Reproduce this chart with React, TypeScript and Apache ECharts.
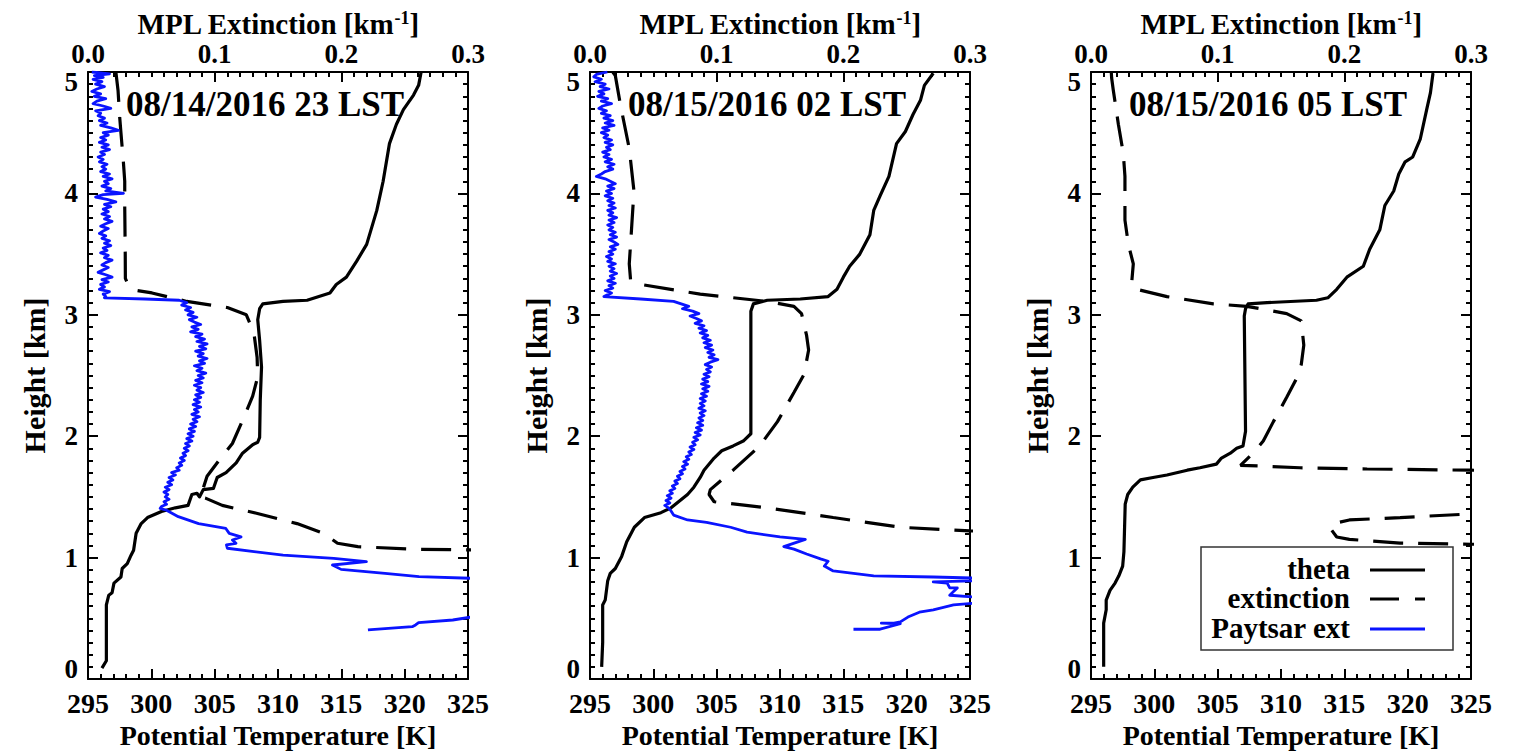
import React, { useEffect, useRef } from "react";
import * as echarts from "echarts";

// ---------------- data ----------------
const panelDates = ["08/14/2016 23 LST", "08/15/2016 02 LST", "08/15/2016 05 LST"];
const thetaTicks = [295, 325, 5];
const extTicks = [0, 0.3, 0.1];
const heightTicks = [0, 5, 1];
const legendNames = ["theta", "extinction", "Paytsar ext"];

// [potential temperature K, height km]
const theta1 = [[296.1,0.09],[296.45,0.15],[296.45,0.61],[296.64,0.69],[296.9,0.71],[297.05,0.79],[297.6,0.84],[297.7,0.91],[298.1,0.95],[298.4,1.02],[298.6,1.06],[298.8,1.2],[299.2,1.28],[299.7,1.33],[300.8,1.38],[301.9,1.41],[302.9,1.43],[303.2,1.52],[303.6,1.53],[303.8,1.5],[304.1,1.56],[304.9,1.57],[305.2,1.66],[305.9,1.7],[306.7,1.78],[307.2,1.86],[308.0,1.93],[308.4,1.95],[308.55,1.99],[308.6,2.3],[308.7,2.57],[308.55,2.79],[308.4,2.96],[308.55,3.05],[308.8,3.09],[310.4,3.11],[312.3,3.12],[314.1,3.18],[314.6,3.25],[315.4,3.31],[316.2,3.44],[317.0,3.58],[317.8,3.86],[318.3,4.1],[318.8,4.41],[319.35,4.57],[319.9,4.69],[320.7,4.81],[321.1,4.89],[321.3,5.0]];
const theta2 = [[295.92,0.1],[296.0,0.3],[296.0,0.61],[296.2,0.65],[296.4,0.81],[296.6,0.87],[297.0,0.91],[297.5,1.01],[297.9,1.13],[298.5,1.25],[299.3,1.33],[300.6,1.37],[301.4,1.41],[302.7,1.52],[303.2,1.58],[303.7,1.66],[304.0,1.72],[304.8,1.82],[305.4,1.88],[306.3,1.92],[307.1,1.96],[307.7,2.02],[307.7,3.03],[307.9,3.09],[309.0,3.12],[311.6,3.13],[313.8,3.15],[314.5,3.21],[315.0,3.31],[315.5,3.4],[316.3,3.5],[317.1,3.66],[317.4,3.86],[317.9,3.98],[318.6,4.14],[319.2,4.41],[319.9,4.51],[320.5,4.65],[321.1,4.77],[321.4,4.89],[322.1,4.99]];
const theta3 = [[296.0,0.1],[296.0,0.46],[296.2,0.57],[296.2,0.65],[296.5,0.73],[296.9,0.79],[297.2,0.85],[297.5,0.93],[297.6,1.05],[297.7,1.44],[297.9,1.52],[298.3,1.58],[298.9,1.64],[299.9,1.66],[301.0,1.68],[302.6,1.72],[303.6,1.74],[304.9,1.77],[305.3,1.82],[306.0,1.86],[306.5,1.9],[307.0,1.92],[307.2,2.04],[307.1,2.99],[307.2,3.05],[307.4,3.09],[308.9,3.1],[312.8,3.12],[313.7,3.14],[314.4,3.21],[315.2,3.31],[316.5,3.4],[317.0,3.54],[317.8,3.7],[318.2,3.9],[318.9,4.02],[319.3,4.16],[319.8,4.26],[320.4,4.3],[321.0,4.45],[321.5,4.69],[321.8,4.83],[322.0,4.99]];

// [MPL extinction km-1, height km]
const ext1 = [[0.022,5.0],[0.0237,4.85],[0.025,4.63],[0.026,4.5],[0.028,4.25],[0.029,4.1],[0.029,3.89],[0.0294,3.5],[0.0295,3.3],[0.032,3.24],[0.039,3.2],[0.0505,3.18],[0.078,3.11],[0.11,3.06],[0.125,3.0],[0.131,2.85],[0.1335,2.65],[0.134,2.49],[0.13,2.33],[0.122,2.13],[0.114,1.94],[0.1034,1.8],[0.094,1.67],[0.09,1.54],[0.0887,1.5],[0.0927,1.49],[0.106,1.43],[0.133,1.365],[0.165,1.28],[0.186,1.2],[0.197,1.118],[0.213,1.09],[0.261,1.068],[0.304,1.063],[0.4,1.055]];
const ext2 = [[0.018,5.0],[0.02,4.97],[0.024,4.73],[0.031,4.37],[0.0347,4.02],[0.033,3.74],[0.031,3.42],[0.032,3.29],[0.04,3.25],[0.087,3.17],[0.14,3.11],[0.161,3.07],[0.167,3.01],[0.171,2.83],[0.1726,2.71],[0.169,2.51],[0.161,2.36],[0.148,2.12],[0.134,1.92],[0.113,1.72],[0.095,1.56],[0.094,1.52],[0.098,1.46],[0.14,1.41],[0.192,1.33],[0.245,1.25],[0.3,1.22],[0.4,1.18]];
const ext3 = [[0.016,5.0],[0.0163,4.95],[0.0176,4.85],[0.0216,4.57],[0.0255,4.33],[0.0268,4.14],[0.0268,3.78],[0.0295,3.58],[0.0334,3.42],[0.032,3.25],[0.036,3.21],[0.06,3.15],[0.0966,3.09],[0.123,3.07],[0.1545,3.01],[0.166,2.95],[0.168,2.75],[0.166,2.59],[0.162,2.47],[0.1545,2.32],[0.144,2.12],[0.136,1.96],[0.128,1.86],[0.118,1.76],[0.133,1.755],[0.165,1.74],[0.218,1.73],[0.3,1.72],[0.45,1.7],[0.45,1.37],[0.3,1.36],[0.244,1.33],[0.204,1.31],[0.191,1.28],[0.189,1.24],[0.194,1.17],[0.204,1.15],[0.244,1.12],[0.3,1.11],[0.45,1.1],[0.5,0.1]];

// [Paytsar extinction km-1, height km]
const pay1 = [[0.003,5.0],[0.017,4.985],[0.005,4.97],[0.012,4.955],[0.004,4.94],[0.011,4.92],[0.006,4.9],[0.013,4.88],[0.007,4.86],[0.003,4.84],[0.01,4.82],[0.005,4.8],[0.014,4.78],[0.007,4.76],[0.004,4.74],[0.012,4.72],[0.018,4.7],[0.006,4.68],[0.01,4.66],[0.008,4.64],[0.013,4.62],[0.009,4.6],[0.015,4.58],[0.01,4.56],[0.018,4.54],[0.024,4.52],[0.012,4.5],[0.016,4.48],[0.01,4.46],[0.014,4.44],[0.009,4.42],[0.016,4.4],[0.011,4.38],[0.017,4.36],[0.01,4.34],[0.013,4.32],[0.008,4.3],[0.012,4.28],[0.009,4.26],[0.015,4.24],[0.011,4.22],[0.014,4.2],[0.01,4.18],[0.017,4.16],[0.012,4.14],[0.019,4.12],[0.013,4.1],[0.016,4.08],[0.011,4.06],[0.018,4.04],[0.014,4.02],[0.028,4.0],[0.012,3.99],[0.006,3.97],[0.015,3.95],[0.022,3.93],[0.013,3.91],[0.018,3.89],[0.012,3.87],[0.016,3.85],[0.011,3.83],[0.017,3.81],[0.013,3.79],[0.019,3.77],[0.014,3.75],[0.01,3.73],[0.016,3.71],[0.012,3.69],[0.009,3.67],[0.014,3.65],[0.011,3.63],[0.017,3.61],[0.013,3.59],[0.018,3.57],[0.012,3.55],[0.015,3.53],[0.01,3.51],[0.016,3.49],[0.013,3.47],[0.019,3.45],[0.014,3.43],[0.011,3.41],[0.016,3.39],[0.012,3.37],[0.008,3.35],[0.014,3.33],[0.019,3.31],[0.011,3.29],[0.016,3.27],[0.01,3.25],[0.013,3.23],[0.009,3.21],[0.017,3.19],[0.012,3.17],[0.014,3.15],[0.013,3.14],[0.045,3.13],[0.072,3.12],[0.078,3.1],[0.074,3.08],[0.081,3.06],[0.077,3.04],[0.083,3.02],[0.079,3.0],[0.086,2.98],[0.08,2.96],[0.084,2.94],[0.089,2.92],[0.082,2.9],[0.087,2.88],[0.081,2.86],[0.09,2.84],[0.085,2.82],[0.092,2.8],[0.086,2.78],[0.094,2.76],[0.088,2.74],[0.093,2.72],[0.085,2.7],[0.091,2.68],[0.087,2.66],[0.094,2.64],[0.088,2.62],[0.092,2.6],[0.084,2.58],[0.09,2.56],[0.086,2.54],[0.093,2.52],[0.087,2.5],[0.091,2.48],[0.085,2.46],[0.09,2.44],[0.084,2.42],[0.089,2.4],[0.086,2.38],[0.091,2.36],[0.085,2.34],[0.089,2.32],[0.084,2.3],[0.088,2.28],[0.083,2.26],[0.089,2.24],[0.084,2.22],[0.087,2.2],[0.082,2.18],[0.088,2.16],[0.083,2.14],[0.086,2.12],[0.081,2.1],[0.085,2.08],[0.08,2.06],[0.084,2.04],[0.079,2.02],[0.083,2.0],[0.078,1.98],[0.082,1.96],[0.077,1.94],[0.08,1.92],[0.076,1.9],[0.079,1.88],[0.075,1.86],[0.077,1.84],[0.073,1.82],[0.076,1.8],[0.072,1.78],[0.074,1.76],[0.07,1.74],[0.072,1.72],[0.066,1.7],[0.069,1.68],[0.064,1.66],[0.067,1.64],[0.063,1.62],[0.066,1.6],[0.061,1.58],[0.064,1.56],[0.06,1.54],[0.063,1.52],[0.061,1.5],[0.064,1.48],[0.06,1.46],[0.062,1.44],[0.058,1.42],[0.057,1.406],[0.062,1.39],[0.0713,1.337],[0.0873,1.28],[0.1088,1.24],[0.1115,1.2],[0.1208,1.17],[0.114,1.145],[0.1168,1.118],[0.1093,1.104],[0.11,1.077],[0.154,1.02],[0.194,0.994],[0.2198,0.966],[0.193,0.939],[0.1998,0.903],[0.2345,0.87],[0.2613,0.843],[0.304,0.829],[0.45,0.8],[0.5,0.6],[0.35,0.515],[0.304,0.513],[0.288,0.486],[0.261,0.464],[0.2586,0.445],[0.256,0.431],[0.221,0.404]];
const pay2 = [[0.0137,5.0],[0.005,4.98],[0.003,4.96],[0.009,4.94],[0.004,4.92],[0.012,4.9],[0.008,4.88],[0.015,4.86],[0.007,4.84],[0.011,4.82],[0.006,4.8],[0.014,4.78],[0.009,4.76],[0.017,4.74],[0.01,4.72],[0.007,4.7],[0.013,4.68],[0.009,4.66],[0.016,4.64],[0.011,4.62],[0.018,4.6],[0.012,4.58],[0.019,4.56],[0.01,4.54],[0.015,4.52],[0.009,4.5],[0.014,4.48],[0.011,4.46],[0.017,4.44],[0.012,4.42],[0.018,4.4],[0.013,4.38],[0.016,4.36],[0.01,4.34],[0.015,4.32],[0.011,4.3],[0.017,4.28],[0.012,4.26],[0.019,4.24],[0.014,4.22],[0.018,4.2],[0.012,4.18],[0.009,4.16],[0.005,4.14],[0.012,4.12],[0.016,4.1],[0.02,4.08],[0.014,4.06],[0.019,4.04],[0.013,4.02],[0.017,4.0],[0.012,3.98],[0.018,3.96],[0.014,3.94],[0.019,3.92],[0.015,3.9],[0.02,3.88],[0.014,3.86],[0.018,3.84],[0.015,3.82],[0.021,3.8],[0.015,3.78],[0.019,3.76],[0.014,3.74],[0.018,3.72],[0.015,3.7],[0.02,3.68],[0.016,3.66],[0.021,3.64],[0.015,3.62],[0.019,3.6],[0.022,3.58],[0.016,3.56],[0.02,3.54],[0.015,3.52],[0.018,3.5],[0.013,3.48],[0.017,3.46],[0.014,3.44],[0.02,3.42],[0.015,3.4],[0.019,3.38],[0.016,3.36],[0.021,3.34],[0.016,3.32],[0.019,3.3],[0.014,3.28],[0.02,3.26],[0.015,3.24],[0.018,3.22],[0.012,3.2],[0.017,3.18],[0.013,3.16],[0.011,3.15],[0.04,3.13],[0.066,3.11],[0.072,3.09],[0.078,3.07],[0.073,3.05],[0.081,3.03],[0.086,3.01],[0.079,2.99],[0.084,2.97],[0.088,2.95],[0.083,2.93],[0.09,2.91],[0.086,2.89],[0.092,2.87],[0.087,2.85],[0.093,2.83],[0.089,2.81],[0.095,2.79],[0.09,2.77],[0.096,2.75],[0.091,2.73],[0.097,2.71],[0.093,2.69],[0.098,2.67],[0.094,2.65],[0.101,2.63],[0.095,2.61],[0.091,2.59],[0.096,2.57],[0.092,2.55],[0.095,2.53],[0.09,2.51],[0.094,2.49],[0.089,2.47],[0.093,2.45],[0.088,2.43],[0.094,2.41],[0.089,2.39],[0.093,2.37],[0.088,2.35],[0.092,2.33],[0.087,2.31],[0.091,2.29],[0.087,2.27],[0.09,2.25],[0.086,2.23],[0.091,2.21],[0.087,2.19],[0.09,2.17],[0.086,2.15],[0.089,2.13],[0.085,2.11],[0.089,2.09],[0.084,2.07],[0.088,2.05],[0.083,2.03],[0.087,2.01],[0.082,1.99],[0.085,1.97],[0.081,1.95],[0.083,1.93],[0.079,1.91],[0.082,1.89],[0.078,1.87],[0.08,1.85],[0.076,1.83],[0.078,1.81],[0.074,1.79],[0.077,1.77],[0.073,1.75],[0.075,1.73],[0.071,1.71],[0.073,1.69],[0.069,1.67],[0.071,1.65],[0.067,1.63],[0.069,1.61],[0.065,1.59],[0.067,1.57],[0.063,1.55],[0.065,1.53],[0.061,1.51],[0.064,1.49],[0.06,1.47],[0.063,1.45],[0.059,1.43],[0.062,1.41],[0.0636,1.39],[0.066,1.35],[0.077,1.31],[0.092,1.29],[0.111,1.25],[0.124,1.21],[0.15,1.17],[0.17,1.15],[0.153,1.09],[0.161,1.07],[0.171,1.03],[0.182,0.99],[0.188,0.97],[0.185,0.93],[0.192,0.89],[0.208,0.87],[0.224,0.85],[0.271,0.84],[0.31,0.83],[0.31,0.81],[0.271,0.8],[0.282,0.79],[0.284,0.75],[0.29,0.75],[0.287,0.72],[0.284,0.69],[0.31,0.67],[0.35,0.65],[0.31,0.63],[0.287,0.61],[0.271,0.57],[0.26,0.55],[0.251,0.51],[0.245,0.47],[0.24,0.46],[0.23,0.46],[0.245,0.455],[0.229,0.41],[0.208,0.41]];

const thetaSets = [theta1, theta2, theta3];
const extSets = [ext1, ext2, ext3];
const paySets = [pay1, pay2, null];

// ---------------- style ----------------
const SERIF = "Liberation Serif, Times New Roman, serif";
const BLUE = "#0a14ff";
const PANEL_LEFT = [88, 590, 1091];
const GRID_TOP = 72;
const GRID_W = 380;
const GRID_H = 607;
const FS = 30;
const FS_NAME = 29;
const FS_BOTTOM_NAME = 28;
const FS_SMALL = 27;

const txt = (size: number) => ({
  fontFamily: SERIF,
  fontWeight: "bold" as const,
  fontSize: size,
  color: "#000",
});

export default function App() {
  const ref = useRef<HTMLDivElement>(null);
  useEffect(() => {
    if (!ref.current) return;
    const chart = echarts.init(ref.current, null, { renderer: "svg" });

    const grid: any[] = [];
    const xAxis: any[] = [];
    const yAxis: any[] = [];
    const series: any[] = [];
    const graphic: any[] = [];

    const axisLine = { show: true, onZero: false, lineStyle: { color: "#000", width: 2 } };
    const tick = { show: true, inside: true, length: 10, lineStyle: { color: "#000", width: 2 } };

    for (let i = 0; i < 3; i++) {
      grid.push({
        left: PANEL_LEFT[i], top: GRID_TOP, width: GRID_W, height: GRID_H,
        containLabel: false, outerBoundsMode: "none",
      });
      xAxis.push({
        type: "value", gridIndex: i, position: "bottom",
        min: thetaTicks[0], max: thetaTicks[1], interval: thetaTicks[2],
        axisLine, axisTick: tick,
        minorTick: { show: true, splitNumber: 5, length: 5, lineStyle: { color: "#000", width: 2 } },
        splitLine: { show: false },
        axisLabel: { ...txt(FS_SMALL + 1), margin: 10, lineHeight: FS_SMALL + 1 },
        name: "Potential Temperature [K]", nameLocation: "middle", nameGap: 42, nameMoveOverlap: false,
        nameTextStyle: { ...txt(FS_BOTTOM_NAME), lineHeight: FS_BOTTOM_NAME },
      });
      xAxis.push({
        type: "value", gridIndex: i, position: "top",
        min: extTicks[0], max: extTicks[1], interval: extTicks[2],
        axisLine, axisTick: tick,
        minorTick: { show: true, splitNumber: 10, length: 5, lineStyle: { color: "#000", width: 2 } },
        splitLine: { show: false },
        axisLabel: { ...txt(FS_SMALL), margin: 5, lineHeight: FS_SMALL, formatter: (v: number) => v.toFixed(1) },
        name: "MPL Extinction [km{sup|-1}]", nameLocation: "middle", nameGap: 34, nameMoveOverlap: false,
        nameTextStyle: {
          ...txt(FS_NAME), lineHeight: FS_NAME,
          rich: { sup: { ...txt(18), verticalAlign: "top", lineHeight: 18 } },
        },
      });
      yAxis.push({
        type: "value", gridIndex: i, position: "left",
        min: heightTicks[0], max: heightTicks[1], interval: heightTicks[2],
        axisLine, axisTick: tick,
        minorTick: { show: true, splitNumber: 10, length: 5, lineStyle: { color: "#000", width: 2 } },
        splitLine: { show: false },
        axisLabel: {
          ...txt(FS_SMALL), margin: 10, lineHeight: 20,
          verticalAlignMinLabel: "bottom", verticalAlignMaxLabel: "top",
        },
        name: "Height [km]", nameLocation: "middle", nameGap: 39, nameMoveOverlap: false,
        nameTextStyle: { ...txt(FS), lineHeight: FS },
      });
      yAxis.push({
        type: "value", gridIndex: i, position: "right",
        min: heightTicks[0], max: heightTicks[1], interval: heightTicks[2],
        axisLine, axisTick: tick,
        minorTick: { show: true, splitNumber: 10, length: 5, lineStyle: { color: "#000", width: 2 } },
        splitLine: { show: false },
        axisLabel: { show: false },
      });

      series.push({
        name: legendNames[0], type: "line", xAxisIndex: 2 * i, yAxisIndex: 2 * i,
        data: thetaSets[i], showSymbol: false, symbol: "none", clip: true,
        lineStyle: { color: "#000", width: 3.2, join: "round" },
      });
      series.push({
        name: legendNames[1], type: "line", xAxisIndex: 2 * i + 1, yAxisIndex: 2 * i,
        data: extSets[i], showSymbol: false, symbol: "none", clip: true,
        lineStyle: { color: "#000", width: 3.2, type: [30, 15] },
      });
      const pay = paySets[i];
      if (pay) {
        series.push({
          name: legendNames[2], type: "line", xAxisIndex: 2 * i + 1, yAxisIndex: 2 * i,
          data: pay, showSymbol: false, symbol: "none", clip: true,
          lineStyle: { color: BLUE, width: 2.8, join: "round" },
        });
      }

      graphic.push({
        type: "text", x: PANEL_LEFT[i] + 38, y: 104, z: 10,
        style: { text: panelDates[i], font: `bold 35px ${SERIF}`, fill: "#000", verticalAlign: "middle" },
      });
    }

    // legend box in panel 3
    const lx = 1201, ly = 547;
    graphic.push({ type: "rect", z: 20, shape: { x: lx, y: ly, width: 252, height: 103 }, style: { fill: "#fff", stroke: "#333", lineWidth: 1.5 } });
    const rows = [569, 598, 628];
    legendNames.forEach((n, k) => {
      graphic.push({ type: "text", z: 21, x: 1350, y: rows[k], style: { text: n, font: `bold 29px ${SERIF}`, fill: "#000", align: "right", verticalAlign: "middle" } });
    });
    graphic.push({ type: "line", z: 21, shape: { x1: 1370, y1: rows[0] + 1, x2: 1425, y2: rows[0] + 1 }, style: { stroke: "#000", lineWidth: 3 } });
    graphic.push({ type: "line", z: 21, shape: { x1: 1370, y1: rows[1] + 1, x2: 1399, y2: rows[1] + 1 }, style: { stroke: "#000", lineWidth: 3 } });
    graphic.push({ type: "line", z: 21, shape: { x1: 1415, y1: rows[1] + 1, x2: 1425, y2: rows[1] + 1 }, style: { stroke: "#000", lineWidth: 3 } });
    graphic.push({ type: "line", z: 21, shape: { x1: 1370, y1: rows[2] + 1, x2: 1425, y2: rows[2] + 1 }, style: { stroke: BLUE, lineWidth: 3 } });

    chart.setOption({
      animation: false,
      backgroundColor: "#fff",
      grid, xAxis, yAxis, series, graphic,
    });
    return () => chart.dispose();
  }, []);

  return (
    <div
      ref={ref}
      style={{ position: "fixed", left: 0, top: 0, width: 1519, height: 752, background: "#fff" }}
    />
  );
}
